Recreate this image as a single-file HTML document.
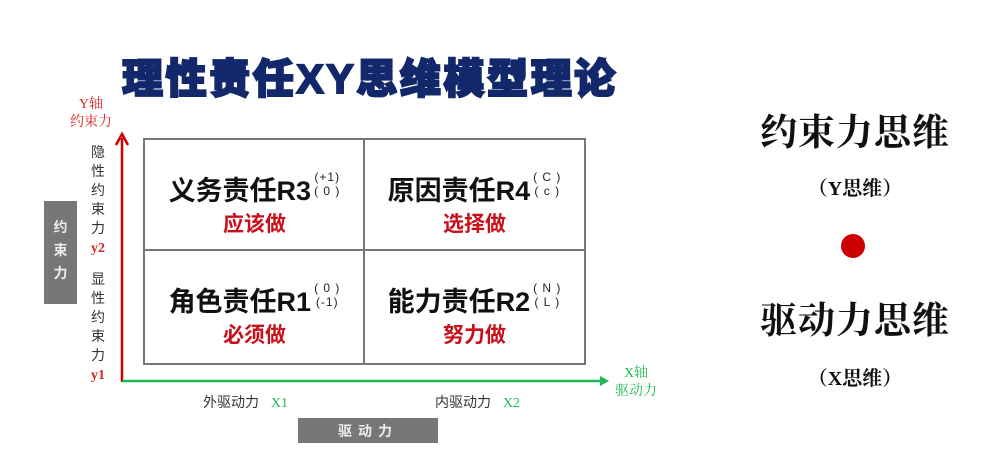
<!DOCTYPE html>
<html><head><meta charset="utf-8"><style>
body{margin:0;width:987px;height:466px;background:#fff;position:relative;overflow:hidden;font-family:"Liberation Sans","Noto Sans CJK SC",sans-serif}
.a{position:absolute;white-space:nowrap}
.title{left:122px;top:45px;font-size:41px;font-weight:900;color:#13286a;-webkit-text-stroke:2px #13286a;letter-spacing:2.6px;font-family:"Liberation Sans","Noto Sans CJK SC",sans-serif}
.cell{position:absolute;width:219px;height:110px;text-align:center}
.main{font-size:27px;font-weight:bold;color:#111;margin-top:29px;display:inline-block}
.par{display:inline-block;font-size:12px;line-height:14px;vertical-align:5px;margin-left:3px;text-align:center;color:#222;letter-spacing:1px}
.red{color:#c8101a;font-size:21px;font-weight:bold;margin-top:0px}
.vt{font-size:14px;color:#333;line-height:19px;text-align:center;width:20px}
.serif{font-family:"Liberation Serif","Noto Serif CJK SC",serif}
.r{left:740px;width:230px;text-align:center;font-family:"Liberation Serif","Noto Serif CJK SC",serif;color:#111}
</style></head><body>
<div class="a title">理性责任XY思维模型理论</div>

<div class="a serif" style="left:66px;top:96px;width:50px;text-align:center;color:#d22;font-size:14px;line-height:18px">Y轴<br>约束力</div>

<svg class="a" style="left:0;top:0" width="987" height="466">
<rect x="144" y="139" width="441" height="225" fill="none" stroke="#777" stroke-width="2"/>
<line x1="364" y1="139" x2="364" y2="364" stroke="#777" stroke-width="2"/>
<line x1="144" y1="250" x2="585" y2="250" stroke="#777" stroke-width="2"/>
<line x1="122" y1="382" x2="122" y2="138" stroke="#c00" stroke-width="2.5"/>
<polyline points="116,145 122,134 128,145" fill="none" stroke="#c00" stroke-width="2.5"/>
<line x1="122" y1="381" x2="603" y2="381" stroke="#1db954" stroke-width="2.5"/>
<polygon points="600,376 609,381 600,386" fill="#1db954"/>
<rect x="44" y="201" width="33" height="103" fill="#777"/>
<rect x="298" y="418" width="140" height="25" fill="#777"/>
<circle cx="853" cy="246" r="12" fill="#c00"/>
</svg>

<div class="a" style="left:44px;top:216px;width:33px;text-align:center;color:#eee;font-weight:bold;font-size:14px;line-height:23px">约<br>束<br>力</div>
<div class="a" style="left:298px;top:421px;width:140px;text-align:center;color:#eee;font-weight:bold;font-size:14px;letter-spacing:6px">驱动力</div>

<div class="a vt" style="left:88px;top:143px">隐<br>性<br>约<br>束<br>力<br><span class="serif" style="color:#d22;font-weight:bold">y2</span></div>
<div class="a vt" style="left:88px;top:270px">显<br>性<br>约<br>束<br>力<br><span class="serif" style="color:#d22;font-weight:bold">y1</span></div>

<div class="cell" style="left:145px;top:140px"><div class="main">义务责任R3</div><div class="par">(+1)<br>( 0 )</div><div class="red">应该做</div></div>
<div class="cell" style="left:365px;top:140px"><div class="main">原因责任R4</div><div class="par">( C )<br>( c )</div><div class="red">选择做</div></div>
<div class="cell" style="left:145px;top:251px"><div class="main">角色责任R1</div><div class="par">( 0 )<br>(-1)</div><div class="red">必须做</div></div>
<div class="cell" style="left:365px;top:251px"><div class="main">能力责任R2</div><div class="par">( N )<br>( L )</div><div class="red">努力做</div></div>

<div class="a" style="left:203px;top:392px;font-size:14px;color:#333">外驱动力 <span class="serif" style="color:#1db954;margin-left:8px">X1</span></div>
<div class="a" style="left:435px;top:392px;font-size:14px;color:#333">内驱动力 <span class="serif" style="color:#1db954;margin-left:8px">X2</span></div>
<div class="a serif" style="left:611px;top:365px;width:50px;text-align:center;color:#1db954;font-size:14px;line-height:18px">X轴<br>驱动力</div>

<div class="a r" style="top:102px;font-size:37px;font-weight:bold;letter-spacing:1px">约束力思维</div>
<div class="a r" style="top:172px;font-size:20px;font-weight:bold">（Y思维）</div>
<div class="a r" style="top:290px;font-size:37px;font-weight:bold;letter-spacing:1px">驱动力思维</div>
<div class="a r" style="top:362px;font-size:20px;font-weight:bold">（X思维）</div>
</body></html>
